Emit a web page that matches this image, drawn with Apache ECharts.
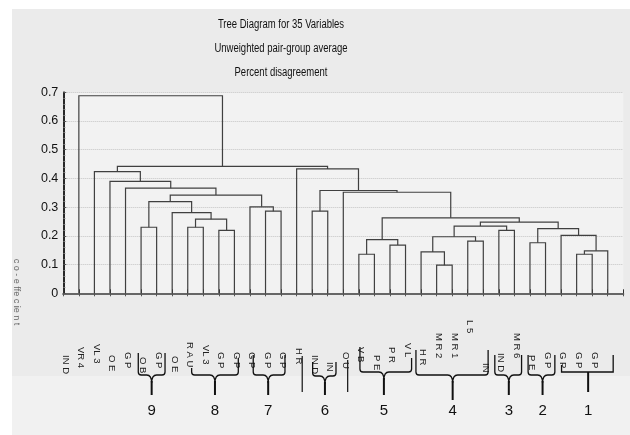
<!DOCTYPE html>
<html>
<head>
<meta charset="utf-8">
<script src="https://cdn.jsdelivr.net/npm/echarts@6/dist/echarts.min.js"></script>
<style>html,body{margin:0;padding:0;background:#fff}#c{width:630px;height:435px}</style>
</head>
<body>
<div id="c"></div>
<script>
// ---------- DATA ----------
const titleLines = ['Tree Diagram for 35 Variables', 'Unweighted pair-group average', 'Percent disagreement'];
const yAxisName = 'c o - e ffe c ie n t';
const yTicks = [0, 0.1, 0.2, 0.3, 0.4, 0.5, 0.6, 0.7];
const leafLabels = ['IN D','VR 4','VL 3','O E','G P','O B','G P','O E','R A U','VL 3','G P','G P','G P','G P','G P','H R','IN D','IN','O U','V B','P E','P R','V L','H R','M R 2','M R 1','L 5','IN','IN D','M R 6','P E','G P','G P','G P','G P'];
// merges: positive = leaf number (1..35), negative = earlier merge number
const mergeA = [5,8,10,-2,7,-1,13,12,-6,4,3,2,16,19,21,-14,24,23,26,-18,28,-20,30,33,-24,32,-23,-22,-16,18,-13,15,-12,1];
const mergeB = [6,9,11,-3,-4,-5,14,-7,-8,-9,-10,-11,17,20,22,-15,25,-17,27,-19,29,-21,31,34,35,-25,-26,-27,-28,-29,-30,-31,-32,-33];
const mergeHeight = [0.230,0.230,0.219,0.258,0.281,0.319,0.286,0.301,0.342,0.366,0.390,0.424,0.286,0.136,0.168,0.187,0.098,0.144,0.182,0.197,0.219,0.234,0.176,0.136,0.148,0.202,0.225,0.248,0.263,0.352,0.358,0.433,0.442,0.688];
// cluster groups under the labels
const groupNames = ['9','8','7','6','5','4','3','2','1'];
const groupFrom  = [4.82, 8.25, 12.21, 16.03, 19.07, 22.67, 27.74, 29.88, 32.03];
const groupTo    = [6.54, 11.25, 14.25, 17.53, 22.39, 27.31, 29.46, 31.60, 35.35];
const groupTip   = [5.68, 9.75, 13.17, 16.82, 20.61, 25.03, 28.64, 30.81, 33.74];
const singleMarks = [15.36, 18.28];

// ---------- LAYOUT (pixels, not data) ----------
const labelTop = [355,347,344,355,352,357,352,356,342,345,352,352,352,352,352,348,355,362,352,347,355,347,343,349,333,333,320,363,353,333,355,352,352,352,352];
const braceLeftTop  = [353,368,355,362,347,350,355,355,365];
const braceRightTop = [353,358,355,362,358,350,355,355,355];
const braceBar      = [375,375,375,376,372,375,375,375,372];
const braceBottom   = [395,395,395,395,395,400,395,395,392];
const FONT = "'Liberation Sans',Arial,sans-serif";

// ---------- BUILD TREE SEGMENTS ----------
const nodeX = [], nodeH = [];
function px(ref){ return ref > 0 ? ref : nodeX[-ref - 1]; }
function ph(ref){ return ref > 0 ? 0 : nodeH[-ref - 1]; }
const treeData = [];
for (let i = 0; i < mergeHeight.length; i++) {
  const xa = px(mergeA[i]), ha = ph(mergeA[i]);
  const xb = px(mergeB[i]), hb = ph(mergeB[i]);
  nodeX.push((xa + xb) / 2); nodeH.push(mergeHeight[i]);
  treeData.push([xa, ha, xb, hb, mergeHeight[i]]);
}

const chart = echarts.init(document.getElementById('c'), null, {renderer: 'canvas'});
const option = {
  animation: false,
  backgroundColor: '#ffffff',
  grid: {left: 63.3, right: 6.7, top: 92.3, bottom: 141.7, show: true, backgroundColor: '#f2f2f2', borderWidth: 0},
  xAxis: [
    {type: 'value', min: 0, max: 36, interval: 1, position: 'bottom',
     axisLine: {show: true, lineStyle: {color: '#222', width: 1.5}},
     axisTick: {show: true, inside: true, length: 4, lineStyle: {color: '#333'}},
     axisLabel: {show: false}, splitLine: {show: false}},
    {type: 'value', min: 0, max: 36, interval: 1, position: 'top',
     axisLine: {show: true, lineStyle: {color: '#666', width: 2}},
     axisTick: {show: true, inside: true, length: 3, lineStyle: {color: '#555'}},
     axisLabel: {show: false}, splitLine: {show: false}}
  ],
  yAxis: [
    {type: 'value', min: yTicks[0], max: yTicks[yTicks.length - 1], interval: 0.1,
     axisLine: {show: true, lineStyle: {color: '#444', width: 1.5}},
     axisTick: {show: true, inside: true, length: 3, lineStyle: {color: '#555'}},
     minorTick: {show: true, splitNumber: 5, length: 2, lineStyle: {color: '#777'}},
     axisLabel: {color: '#111', fontSize: 12.5, fontFamily: FONT, margin: 5,
       formatter: v => (Math.round(v * 10) / 10).toString()},
     splitLine: {show: true, lineStyle: {color: '#c4c4c4', type: 'dotted', width: 1}}},
    {type: 'value', min: 0, max: 0.7, position: 'right',
     axisLine: {show: true, lineStyle: {color: '#111', width: 1.5}},
     axisTick: {show: false}, axisLabel: {show: false}, splitLine: {show: false}}
  ],
  graphic: [
    {type: 'rect', z: -1, silent: true, shape: {x: 12, y: 9, width: 618, height: 426}, style: {fill: '#ebebeb'}},
    {type: 'rect', z: 3, silent: true, shape: {x: 12, y: 376, width: 618, height: 59}, style: {fill: '#f1f1f1'}},
    ...titleLines.map((t, i) => ({type: 'text', z: 5, x: 281, y: 25 + i * 24, scaleX: 0.76,
      style: {text: t, fill: '#111', font: '12.5px ' + FONT, textAlign: 'center', textVerticalAlign: 'middle'}})),
    {type: 'text', z: 5, x: 16, y: 292, rotation: -Math.PI / 2,
     style: {text: yAxisName, fill: '#666', font: '9px ' + FONT, textAlign: 'center', textVerticalAlign: 'middle'}}
  ],
  series: [
    {
      type: 'custom', name: 'tree', z: 4, clip: false,
      data: treeData,
      encode: {x: [0, 2], y: [1, 3, 4]},
      renderItem: function (params, api) {
        const p1 = api.coord([api.value(0), api.value(1)]);
        const p2 = api.coord([api.value(0), api.value(4)]);
        const p3 = api.coord([api.value(2), api.value(4)]);
        const p4 = api.coord([api.value(2), api.value(3)]);
        return {type: 'polyline', shape: {points: [p1, p2, p3, p4]},
          style: {stroke: '#404040', lineWidth: 1.2, fill: null}};
      }
    },
    {
      type: 'custom', name: 'labels', z: 2, clip: false,
      data: leafLabels.map((t, i) => [i + 1, 0]),
      renderItem: function (params, api) {
        const i = params.dataIndex;
        const x = api.coord([api.value(0) - 0.87, 0])[0];
        return {type: 'text', x: x, y: labelTop[i], rotation: -Math.PI / 2,
          style: {text: leafLabels[i], fill: '#222', font: '9.5px ' + FONT, align: 'left', verticalAlign: 'middle'}};
      }
    },
    {
      type: 'custom', name: 'groups', z: 6, clip: false,
      data: groupNames.map((n, i) => [groupFrom[i], groupTo[i], groupTip[i]]),
      renderItem: function (params, api) {
        const i = params.dataIndex;
        const l = api.coord([api.value(0), 0])[0];
        const r = api.coord([api.value(1), 0])[0];
        const t = api.coord([api.value(2), 0])[0];
        const bar = braceBar[i], lt = braceLeftTop[i], rt = braceRightTop[i], bot = braceBottom[i];
        let d;
        if (groupNames[i] === '1') {
          d = `M${l},${lt} L${l},${bar} L${r},${bar} L${r},${rt}`;
        } else {
          d = `M${l},${lt} L${l},${bar - 3} Q${l},${bar} ${l + 3},${bar} L${t - 5},${bar} Q${t},${bar} ${t},${bar + 8}` +
              ` M${t},${bar + 8} Q${t},${bar} ${t + 5},${bar} L${r - 3},${bar} Q${r},${bar} ${r},${bar - 3} L${r},${rt}`;
        }
        return {type: 'group', children: [
          {type: 'path', shape: {pathData: d}, style: {stroke: '#111', lineWidth: 1.3, fill: 'none'}},
          {type: 'path', shape: {pathData: groupNames[i] === '1' ? `M${t},${bar} L${t},${bot}` : `M${t},${bar + 6} L${t},${bot}`},
           style: {stroke: '#111', lineWidth: 2, fill: 'none'}},
          {type: 'text', x: t, y: 411, style: {text: groupNames[i], fill: '#111', font: '15px ' + FONT, align: 'center', verticalAlign: 'middle'}}
        ]};
      }
    },
    {
      type: 'custom', name: 'marks', z: 6, clip: false,
      data: singleMarks.map(v => [v]),
      renderItem: function (params, api) {
        const x = api.coord([api.value(0), 0])[0];
        const top = params.dataIndex === 0 ? 356 : 360;
        return {type: 'line', shape: {x1: x, y1: top, x2: x, y2: 392}, style: {stroke: '#222', lineWidth: 1.3}};
      }
    }
  ]
};
chart.setOption(option);
</script>
</body>
</html>
